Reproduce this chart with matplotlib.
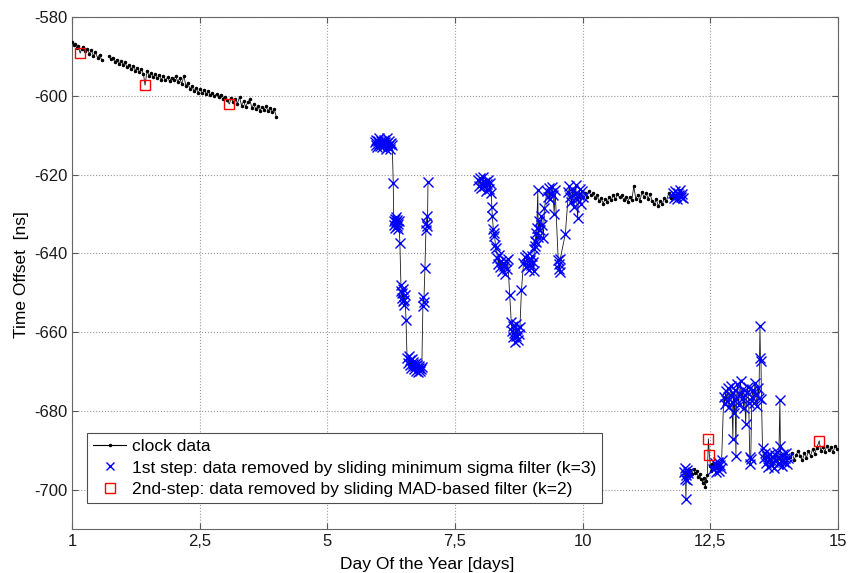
import numpy as np
import matplotlib
matplotlib.use("Agg")
import matplotlib.pyplot as plt
from matplotlib.lines import Line2D

plt.rcParams["font.family"] = ["Liberation Sans", "DejaVu Sans"]
plt.rcParams["axes.unicode_minus"] = False

# x axis runs 0..15, first tick is labelled "1" like in the original figure
TICK_POS = [0, 2.5, 5, 7.5, 10, 12.5, 15]
TICK_LABELS = ["1", "2,5", "5", "7,5", "10", "12,5", "15"]

# breaks in the record (no line drawn across)
gap_edges = [0.65, 5.0, 7.5, 11.985]

# clock data kept after both filters (black dots)
kept_day = [
    0.00, 0.03, 0.06, 0.09, 0.12, 0.19, 0.22, 0.26, 0.30, 0.34, 0.38, 0.42, 0.46, 0.50, 0.54, 0.58,
    0.72, 0.76, 0.80, 0.84, 0.88, 0.92, 0.96, 1.00, 1.04, 1.08, 1.12, 1.16, 1.20, 1.24, 1.28, 1.32,
    1.36, 1.40, 1.47, 1.51, 1.55, 1.59, 1.63, 1.67, 1.71, 1.75, 1.79, 1.83, 1.87, 1.91, 1.95, 1.99,
    2.03, 2.07, 2.11, 2.15, 2.19, 2.23, 2.27, 2.31, 2.35, 2.39, 2.43, 2.47, 2.51, 2.55, 2.59, 2.63,
    2.67, 2.71, 2.75, 2.79, 2.83, 2.87, 2.91, 2.95, 2.99, 3.03, 3.12, 3.16, 3.20, 3.24, 3.28, 3.32,
    3.36, 3.40, 3.44, 3.48, 3.52, 3.56, 3.60, 3.64, 3.68, 3.72, 3.76, 3.80, 3.84, 3.88, 3.92, 3.96,
    4.00,
    10.04, 10.08, 10.12, 10.16, 10.20, 10.24, 10.28, 10.32, 10.36, 10.40, 10.44, 10.48, 10.52, 10.56,
    10.60, 10.64, 10.68, 10.72, 10.76, 10.80, 10.84, 10.88, 10.92, 10.96, 11.00, 11.04, 11.08, 11.12,
    11.16, 11.20, 11.24, 11.28, 11.32, 11.36, 11.40, 11.44, 11.48, 11.52, 11.56, 11.60, 11.64, 11.68,
    11.72,
    12.08, 12.11, 12.14, 12.17, 12.20, 12.23, 12.26, 12.29, 12.32, 12.35, 12.37, 12.40, 12.42, 12.44,
    12.50, 12.52, 12.54,
    14.06, 14.10, 14.14, 14.18, 14.22, 14.26, 14.30, 14.34, 14.38, 14.42, 14.46, 14.50, 14.54, 14.58,
    14.66, 14.70, 14.74, 14.78, 14.82, 14.86, 14.90, 14.94, 14.98,
]
kept_ns = [
    -586.4, -587.1, -586.9, -587.8, -587.3, -588.0, -587.6, -588.6, -588.1, -589.3, -588.5, -589.9, -589.0, -590.3, -589.6, -590.8,
    -589.9, -590.7, -590.3, -591.4, -590.8, -591.9, -591.2, -592.1, -591.5, -592.8, -592.2, -593.3, -592.4, -593.6, -592.9, -594.0,
    -593.2, -594.5, -593.7, -594.9, -594.1, -595.3, -594.4, -595.6, -594.8, -595.9, -595.1, -596.1, -595.3, -596.3, -595.5, -595.9,
    -595.0, -596.4, -595.6, -597.0, -594.9, -597.5, -596.8, -598.3, -597.6, -598.8, -598.0, -599.2, -598.3, -599.4, -598.6, -599.5,
    -598.9, -599.8, -599.2, -600.1, -599.5, -600.4, -599.8, -600.8, -600.2, -601.1, -600.5, -601.6, -600.9, -602.0, -600.3, -602.5,
    -601.4, -602.8, -601.7, -600.9, -603.0, -602.2, -603.4, -602.6, -603.8, -602.8, -603.5, -602.7, -603.9, -603.0, -604.1, -603.4,
    -605.3,
    -624.6, -625.7, -624.3, -625.3, -624.8, -626.0, -625.1, -626.8, -625.9, -627.4, -626.2, -627.0, -625.6, -626.5,
    -625.2, -626.3, -624.9, -625.8, -625.3, -626.4, -625.7, -626.9, -625.8, -626.5, -623.0, -626.2, -625.1, -626.6,
    -624.5, -625.8, -624.7, -626.1, -625.0, -626.7, -627.6, -626.3, -628.0, -626.8, -627.5, -625.9, -626.8, -624.8,
    -625.9,
    -696.4, -695.1, -696.0, -694.8, -695.9, -695.3, -696.8, -696.1, -697.4, -698.2, -697.0, -699.3, -697.8, -696.2,
    -694.0, -695.2, -693.6,
    -691.8, -690.6, -692.4, -691.2, -690.1, -691.5, -692.6, -690.8, -691.9, -690.3, -691.4, -689.8, -690.9, -689.5,
    -690.2, -689.1, -690.4, -688.9, -690.0, -689.3, -690.5, -689.0, -689.6,
]

# 1st step: removed by sliding minimum sigma filter (blue x)
step1_day = [
    5.93, 5.95, 5.96, 5.98, 5.99, 6.01, 6.02, 6.04, 6.05, 6.07, 6.08, 6.10, 6.11, 6.13, 6.14, 6.16,
    6.17, 6.19, 6.20, 6.22, 6.23, 6.25, 6.27, 6.29, 6.30, 6.31, 6.32, 6.33, 6.34, 6.35, 6.36, 6.37,
    6.38, 6.39, 6.40, 6.42, 6.44, 6.45, 6.46, 6.47, 6.48, 6.49, 6.50, 6.51, 6.52, 6.54, 6.56, 6.58,
    6.59, 6.61, 6.62, 6.64, 6.65, 6.67, 6.68, 6.70, 6.71, 6.73, 6.74, 6.76, 6.77, 6.79, 6.80, 6.82,
    6.83, 6.85, 6.87, 6.88, 6.89, 6.91, 6.93, 6.94, 6.95, 6.96, 6.97,
    7.95, 7.97, 7.99, 8.01, 8.03, 8.05, 8.07, 8.09, 8.11, 8.13, 8.15, 8.17, 8.19, 8.21, 8.22, 8.23,
    8.25, 8.26, 8.27, 8.29, 8.31, 8.33, 8.35, 8.36, 8.38, 8.40, 8.42, 8.43, 8.45, 8.47, 8.49, 8.51,
    8.53, 8.57, 8.60, 8.61, 8.63, 8.64, 8.66, 8.67, 8.69, 8.70, 8.72, 8.73, 8.75, 8.77, 8.80, 8.84,
    8.86, 8.88, 8.90, 8.92, 8.94, 8.96, 8.98, 9.00, 9.02, 9.04, 9.05, 9.06, 9.07, 9.08, 9.09, 9.10,
    9.12, 9.13, 9.15, 9.17, 9.19, 9.21, 9.23, 9.25, 9.30, 9.32, 9.34, 9.36, 9.38, 9.40, 9.42, 9.44,
    9.46, 9.52, 9.53, 9.54, 9.55, 9.56, 9.66, 9.72, 9.74, 9.76, 9.78, 9.80, 9.82, 9.84, 9.86, 9.88,
    9.90, 9.92, 9.94, 9.96, 9.98, 10.00,
    11.76, 11.78, 11.80, 11.82, 11.84, 11.86, 11.88, 11.90, 11.92, 11.94, 11.96,
    11.99, 12.00, 12.01, 12.02, 12.03, 12.04, 12.05, 12.06,
    12.56, 12.58, 12.60, 12.62, 12.64, 12.66, 12.68, 12.70, 12.72, 12.76, 12.78, 12.80, 12.82, 12.84,
    12.86, 12.88, 12.90, 12.92, 12.94, 12.95, 12.97, 12.98, 13.00, 13.01, 13.03, 13.05, 13.07, 13.09,
    13.11, 13.13, 13.15, 13.17, 13.19, 13.21, 13.23, 13.25, 13.27, 13.28, 13.29, 13.31, 13.33, 13.35,
    13.37, 13.39, 13.41, 13.43, 13.45, 13.47, 13.48, 13.49, 13.50, 13.52, 13.54, 13.56, 13.58, 13.60,
    13.62, 13.64, 13.66, 13.68, 13.70, 13.72, 13.74, 13.76, 13.78, 13.80, 13.82, 13.84, 13.86, 13.87,
    13.88, 13.90, 13.92, 13.94, 13.96, 13.98, 14.00, 14.02,
]
step1_ns = [
    -611.8, -612.5, -611.2, -612.9, -611.6, -612.2, -610.8, -612.7, -611.4, -613.1, -612.0, -611.3, -612.6, -611.7, -613.4, -612.1,
    -610.6, -612.8, -611.5, -612.3, -613.6, -611.9, -612.4, -622.2, -631.8, -632.9, -631.2, -633.5, -632.1, -630.7, -633.0, -631.6,
    -632.6, -633.8, -631.9, -637.3, -648.0, -649.6, -651.3, -650.2, -652.1, -649.0, -651.8, -653.0, -650.7, -657.0, -666.5, -667.8,
    -666.0, -668.4, -667.2, -669.0, -666.8, -668.1, -667.5, -669.3, -668.6, -667.9, -669.8, -668.3, -670.2, -669.0, -668.5, -670.0,
    -669.4, -668.8, -653.5, -651.2, -652.4, -643.8, -634.0, -632.2, -630.5, -633.1, -622.0,
    -621.5, -622.8, -621.0, -623.4, -622.1, -620.6, -623.0, -621.8, -624.1, -622.5, -621.3, -623.7, -622.2, -624.8, -628.3, -630.6,
    -633.9, -635.6, -634.8, -637.9, -638.6, -641.2, -642.8, -640.5, -643.6, -641.9, -644.5, -642.4, -643.1, -645.3, -642.0, -644.0,
    -641.5, -650.7, -657.5, -659.6, -661.2, -658.4, -660.3, -662.4, -657.9, -661.0, -659.2, -662.0, -660.6, -658.8, -649.4, -642.5,
    -641.0, -643.6, -640.4, -642.9, -644.3, -641.6, -643.0, -640.8, -642.2, -644.6, -639.0, -636.8, -638.2, -634.9, -637.1, -633.6,
    -624.0, -635.8, -631.9, -634.2, -630.5, -632.8, -636.0, -628.6, -624.2, -625.8, -623.5, -626.1, -624.7, -623.1, -625.3, -629.9,
    -624.0, -641.8, -643.9, -642.6, -644.7, -641.4, -635.0, -624.5, -623.0, -625.6, -626.9, -623.8, -628.3, -624.9, -622.6, -626.2,
    -631.0, -625.2, -623.6, -627.4, -624.3, -625.7,
    -624.8, -625.9, -624.1, -625.4, -626.3, -624.6, -625.1, -623.8, -625.7, -624.9, -626.0,
    -695.5, -697.2, -694.6, -702.4, -696.3, -694.9, -697.6, -695.8,
    -694.8, -693.2, -695.6, -694.1, -692.9, -695.3, -693.7, -694.6, -692.4, -676.5, -678.2, -675.0, -677.4, -674.3,
    -679.0, -676.1, -673.6, -677.8, -687.1, -675.4, -680.6, -674.8, -691.5, -676.9, -673.2, -678.6, -675.7, -672.5,
    -677.1, -674.4, -679.2, -676.0, -683.3, -675.3, -673.9, -678.0, -691.6, -693.4, -692.2, -676.6, -674.7, -677.9,
    -673.0, -675.9, -678.8, -674.2, -676.7, -658.4, -666.6, -667.3, -677.0, -689.4, -692.1, -690.6, -693.3, -691.4,
    -694.2, -692.6, -690.9, -693.7, -691.8, -692.9, -694.4, -691.2, -692.5, -690.4, -693.6, -691.7, -677.2, -689.0,
    -692.8, -694.0, -691.0, -693.1, -692.0, -690.8, -693.5, -691.9,
]

# 2nd step: removed by sliding MAD-based filter (red squares)
step2_day = [0.16, 1.43, 3.08, 12.46, 12.48, 14.63]
step2_ns = [-589.2, -597.3, -602.1, -687.1, -691.2, -687.6]

# full clock record = all points in time order, split at the gaps
all_day = np.concatenate([kept_day, step1_day, step2_day])
all_ns = np.concatenate([kept_ns, step1_ns, step2_ns])
order = np.argsort(all_day, kind="stable")
all_day, all_ns = all_day[order], all_ns[order]
seg_id = np.searchsorted(gap_edges, all_day)

fig = plt.figure(figsize=(8.5, 5.73), dpi=100)
ax = fig.add_axes([0.0847, 0.0768, 0.9013, 0.8935])

for s in np.unique(seg_id):
    m = seg_id == s
    ax.plot(all_day[m], all_ns[m], "-", color="0.1", lw=0.6, zorder=2)
ax.plot(kept_day, kept_ns, ".", color="k", ms=3, zorder=3)
ax.plot(step1_day, step1_ns, "x", color="#0000ff", ms=6.5, mew=1.0, zorder=4)
ax.plot(step2_day, step2_ns, "s", mfc="none", mec="#ff0000", ms=7, mew=1.0, zorder=5)

ax.set_xlim(0, 15)
ax.set_ylim(-710, -580)
ax.set_xticks(TICK_POS)
ax.set_xticklabels(TICK_LABELS)
ax.set_yticks(np.arange(-700, -579, 20))
ax.tick_params(direction="in", top=True, right=True, labelsize=12, length=4,
               color="0.35", labelcolor="0.1")
ax.grid(True, linestyle=":", color="0.6", linewidth=0.8)
for sp in ax.spines.values():
    sp.set_color("0.4")

ax.set_xlabel("Day Of the Year [days]", fontsize=12.5)
ax.xaxis.set_label_coords(0.463, -0.055)
ax.set_ylabel("Time Offset  [ns]", fontsize=12.5)
ax.yaxis.set_label_coords(-0.056, 0.496)

handles = [
    Line2D([], [], color="k", lw=0.8, marker=".", ms=3),
    Line2D([], [], color="#0000ff", lw=0, marker="x", ms=6, mew=1.0),
    Line2D([], [], color="#ff0000", lw=0, marker="s", mfc="none", ms=7, mew=1.0),
]
labels = [
    "clock data",
    "1st step: data removed by sliding minimum sigma filter (k=3)",
    "2nd-step: data removed by sliding MAD-based filter (k=2)",
]
leg = ax.legend(handles, labels, loc="lower left", bbox_to_anchor=(0.02, 0.05),
                borderaxespad=0, fontsize=12.5, fancybox=False, framealpha=1,
                edgecolor="0.3", handlelength=1.9, handletextpad=0.3,
                labelspacing=0.38, borderpad=0.35)
leg.get_frame().set_linewidth(0.8)

fig.savefig("out.png", dpi=100)
